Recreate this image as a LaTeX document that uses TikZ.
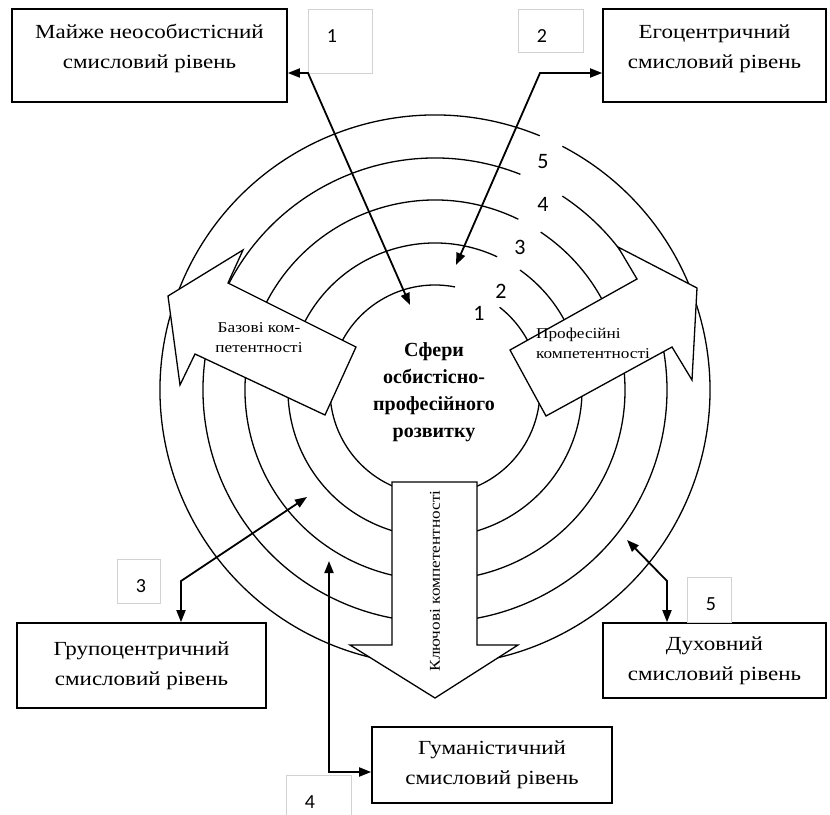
\documentclass[tikz,border=0pt]{standalone}
\usepackage{fontspec}
\setmainfont{Liberation Serif}
\newfontfamily\widefont[FakeStretch=1.15]{Liberation Serif}
\newfontfamily\numfont{Carlito}
\usetikzlibrary{arrows.meta,calc}

\begin{document}
\begin{tikzpicture}[x=1pt,y=1pt,
  levelbox/.style={draw, line width=1.7pt, fill=white, align=center, inner sep=0pt,
    font=\widefont\fontsize{20}{30}\selectfont},
  numframe/.style={draw=gray!35, line width=0.7pt, anchor=north west, inner sep=0pt},
  numtext/.style={font=\numfont\fontsize{20}{20}\selectfont},
  ringnum/.style={font=\numfont\fontsize{22}{22}\selectfont},
  bigarrow/.style={draw, line width=1.3pt, fill=white, line join=miter},
  arrowtext/.style={font=\widefont\fontsize{15}{20}\selectfont, align=center},
  link/.style={line width=1.8pt, {Triangle[length=12pt,width=9pt]}-{Triangle[length=12pt,width=9pt]}}]
\useasboundingbox (0,0) rectangle (830,-814);
\coordinate (O) at (435,-390);
% rings with gaps for the numbers
\foreach \r/\a/\b in {275/67.6/62.4,232/68.4/56.7,190/64/56.2,147/65/54.7,105/79/52}
  \draw[line width=1.3pt] (O) ++(\a:\r) arc[start angle=\a, end angle=\b+360, radius=\r];
\foreach \n/\x/\y in {1/479/313,2/501/291,3/520/247,4/543/204,5/543/162}
  \node[ringnum] (r\n) at (\x,-\y) {\n};
% three competence arrows
\draw[bigarrow] (168,-296) -- (243,-250) -- (228,-283) -- (356,-347) -- (325,-415) -- (195,-354) -- (180,-385) -- cycle;
\draw[bigarrow] (697,-288) -- (618,-247) -- (637,-279) -- (510,-350) -- (546,-416) -- (672,-347) -- (692,-380) -- cycle;
\draw[bigarrow] (392,-482) -- (477,-482) -- (477,-645) -- (518,-645) -- (435,-698) -- (350,-645) -- (392,-645) -- cycle;
\node[arrowtext] (basic) at (259,-338) {Базові ком-\\петентності};
\node[arrowtext, align=left] (prof) at (593,-343) {Професійні\\компетентності};
\node[arrowtext, rotate=90] (key) at (435,-581) {Ключові компетентності};
\node[font=\fontsize{20}{27}\selectfont\bfseries, align=center] (sphere) at (434,-392)
  {Сфери\\осбистісно-\\професійного\\розвитку};
% levels
\node[levelbox, minimum width=275, minimum height=93] (quasi) at (149.5,-55.5) {Майже неособистісний\\смисловий рівень\\[-12pt]};
\node[levelbox, minimum width=223, minimum height=93] (ego) at (714.5,-55.5) {Егоцентричний\\смисловий рівень\\[-12pt]};
\node[levelbox, minimum width=249, minimum height=85] (group) at (141.5,-665.5) {Групоцентричний\\смисловий рівень};
\node[levelbox, minimum width=240, minimum height=76] (human) at (492,-765) {Гуманістичний\\смисловий рівень};
\node[levelbox, minimum width=223, minimum height=75] (spirit) at (714.5,-660.5) {Духовний\\смисловий рівень};
\foreach \n/\x/\y/\w/\h in {1/308/9/64/64,2/518/9/65/43,3/117/559/43/44,4/286/775/65/45,5/687/577/44/45} {
  \node[numframe, minimum width=\w, minimum height=\h] (f\n) at (\x,-\y) {};
  \node[numtext] (t\n) at ($(f\n.north west)+(24,-27)$) {\n};
}
% links
\path (308,-73) coordinate (k1) (410,-305) coordinate (e1)
  (540,-73) coordinate (k2) (456,-265) coordinate (e2)
  (181,-581) coordinate (k3) (307,-497) coordinate (e3)
  (329,-772) coordinate (k4) (329,-561) coordinate (e4)
  (667,-581) coordinate (k5) (627,-540) coordinate (e5);
\draw[link] (quasi.east |- k1) -- (k1) -- (e1);
\draw[link] (ego.west |- k2) -- (k2) -- (e2);
\draw[link] (group.north -| k3) -- (k3) -- (e3);
\draw[link] (human.west |- k4) -- (k4) -- (e4);
\draw[link] (spirit.north -| k5) -- (k5) -- (e5);
\end{tikzpicture}
\end{document}
